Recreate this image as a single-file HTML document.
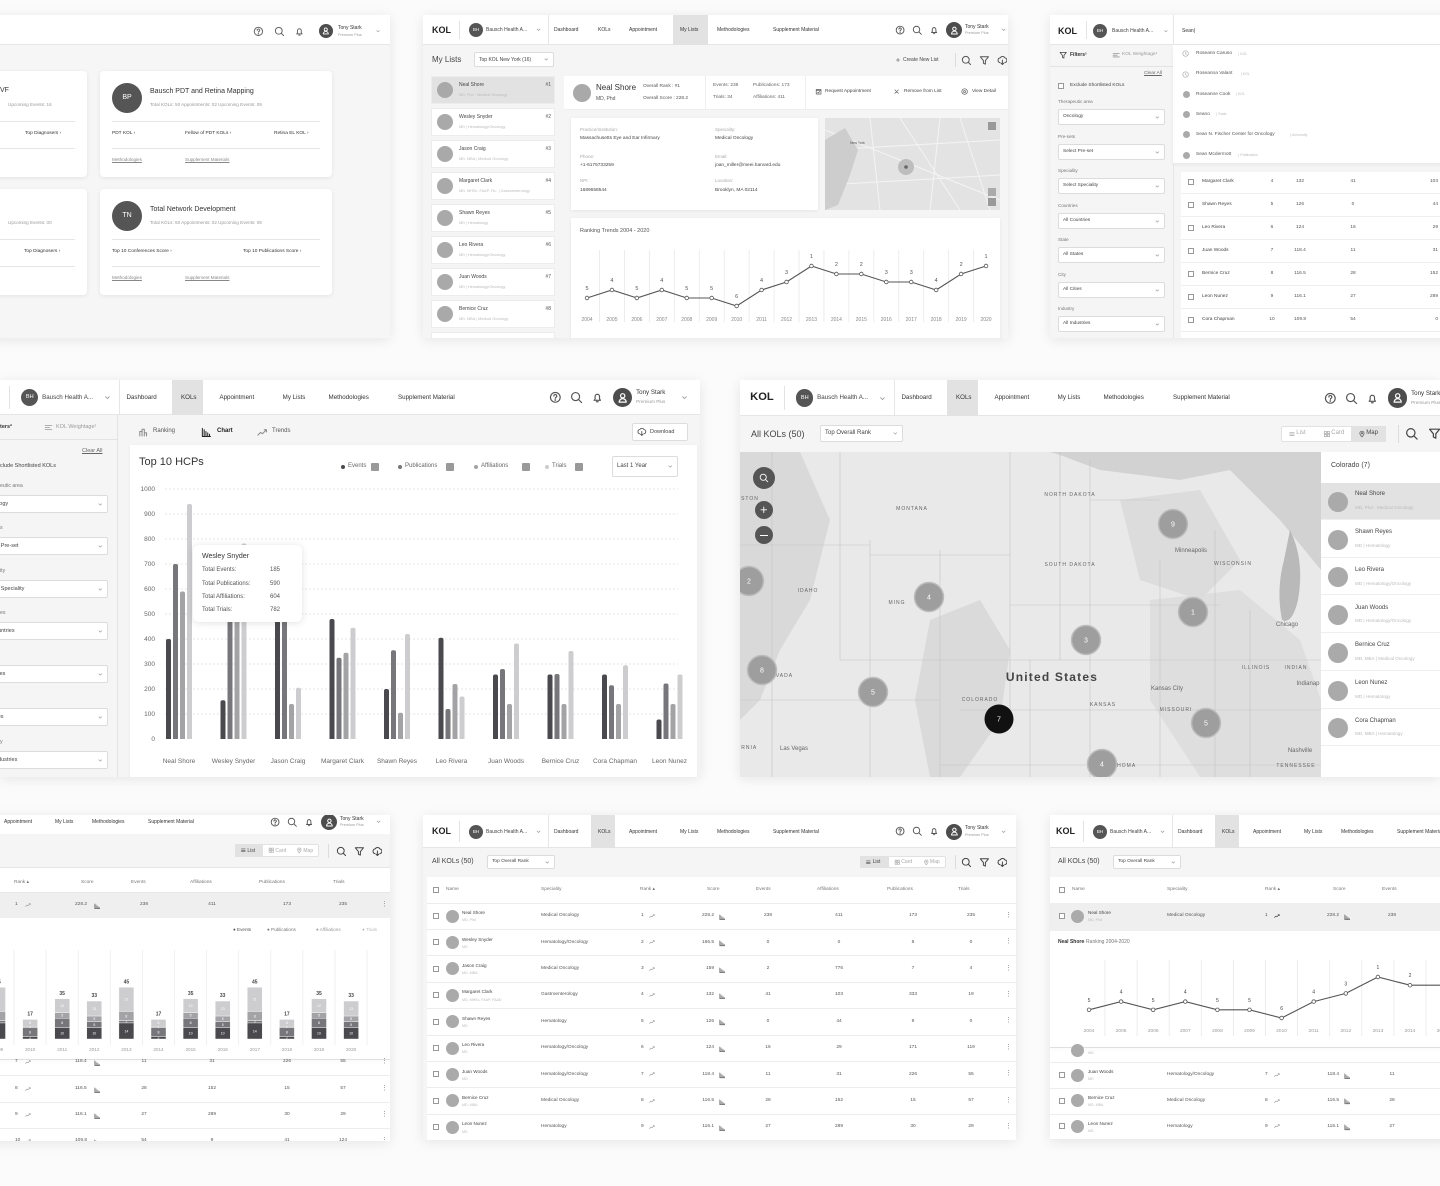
<!DOCTYPE html>
<html><head><meta charset="utf-8">
<style>
body{margin:0;width:1440px;height:1186px;background:#fbfbfb;position:relative;overflow:hidden;font-family:"Liberation Sans",sans-serif;color:#333}
.p{position:absolute;overflow:hidden;background:#f5f5f5;box-shadow:0 2px 12px rgba(0,0,0,.09)}
</style></head>
<body>
<script>
/* ---------- chart data (top-level arrays) ---------- */
const hcpNames=['Neal Shore','Wesley Snyder','Jason Craig','Margaret Clark','Shawn Reyes','Leo Rivera','Juan Woods','Bernice Cruz','Cora Chapman','Leon Nunez'];
const eventsVals=[400,155,620,480,200,405,258,258,258,78];
const publicationsVals=[700,590,580,325,355,120,280,260,215,222];
const affiliationsVals=[590,604,140,345,105,220,140,140,140,140];
const trialsVals=[940,782,205,445,420,170,382,352,295,258];
const yTickVals=[0,100,200,300,400,500,600,700,800,900,1000];
const tooltipLabels=['Total Events:','Total Publications:','Total Affiliations:','Total Trials:'];
const tooltipVals=['185','590','604','782'];

const rankYears=['2004','2005','2006','2007','2008','2009','2010','2011','2012','2013','2014','2015','2016','2017','2018','2019','2020'];
const rankVals=[5,4,5,4,5,5,6,4,3,1,2,2,3,3,4,2,1];

const stackYears=['2009','2010','2011','2012','2013','2014','2015','2016','2017','2018','2019','2020'];
const stackEvents=[14,2,10,10,14,2,10,10,14,2,10,10];
const stackPubs=[2,8,8,5,2,8,8,5,2,8,8,5];
const stackAffil=[8,1,5,5,8,1,5,5,8,1,5,5];
const stackTrials=[21,6,12,13,21,6,12,13,21,6,12,13];

/* ---------- helpers ---------- */
const NS='http://www.w3.org/2000/svg';
function mk(par,tag,name,inter,css,text){
 const e=document.createElement(tag);
 
 
 e.style.cssText=css; if(text!=null)e.textContent=text; par.appendChild(e); return e;}
function panel(name,x,y,w,h,bg){
 const p=mk(document.body,'div',name,false,`left:${x}px;top:${y}px;width:${w}px;height:${h}px;${bg?'background:'+bg:''}`);
 p.className='p';p._x=x;p._y=y;p._w=w;p._h=h;return p;}
function R(p,name,x,y,w,h,css,inter){return mk(p,'div',name,inter,`position:absolute;left:${x-p._x}px;top:${y-p._y}px;width:${w}px;height:${h}px;box-sizing:border-box;${css||''}`);}
function T(p,name,x,y,t,sz,col,css,inter){return mk(p,'div',name,inter,`position:absolute;white-space:nowrap;left:${x-p._x}px;top:${y-p._y-sz*0.6}px;font-size:${sz}px;line-height:${sz*1.2}px;color:${col||'#444'};${css||''}`,t);}
function C(p,name,cx,cy,r,css,inter){return R(p,name,cx-r,cy-r,2*r,2*r,'border-radius:50%;'+(css||''),inter);}
function layer(p,name){
 const s=document.createElementNS(NS,'svg');
 
 
 s.setAttribute('width',p._w);s.setAttribute('height',p._h);
 s.style.cssText='position:absolute;left:0;top:0;overflow:visible';
 p.appendChild(s);
 const g=document.createElementNS(NS,'g');g.setAttribute('transform',`translate(${-p._x},${-p._y})`);s.appendChild(g);return g;}
function S(g,tag,name,attrs,text){
 const e=document.createElementNS(NS,tag);
 
 
 for(const k in attrs)e.setAttribute(k,attrs[k]); if(text!=null)e.textContent=text; g.appendChild(e); return e;}
const ICONS={
 help:'<circle cx="6" cy="6" r="4.6"/><path d="M4.6 4.8a1.4 1.4 0 1 1 1.9 1.3c-.4.2-.5.5-.5.9"/><circle cx="6" cy="8.6" r=".3"/>',
 search:'<circle cx="5.3" cy="5.3" r="3.8"/><path d="M8.2 8.2L11 11"/>',
 bell:'<path d="M3 8.8h6l-.9-1.3V5.2a2.1 2.1 0 0 0-4.2 0v2.3z"/><path d="M5.2 10.2h1.6"/>',
 filter:'<path d="M1.5 2h9l-3.4 4.2v4l-2.2-1.1V6.2z"/>',
 download:'<path d="M3.2 8.5A2.7 2.7 0 0 1 3.6 3.2a3 3 0 0 1 5.2 0 2.7 2.7 0 0 1 0 5.3"/><path d="M6 5.5v5M4.4 9l1.6 1.6L7.6 9"/>',
 chev:'<path d="M3.5 5l2.5 2.5L8.5 5"/>',
 right:'<path d="M5 3.5l2.5 2.5L5 8.5"/>',
 trend:'<path d="M1 9l3-3 2 1.5 4.5-4.5M8 3h2.5v2.5"/>',
 bars:'<path d="M1.5 1.5v9h9M3.5 10V3M5.5 10V5M7.5 10V6.5M9.5 10V8"/>',
 clock:'<circle cx="6" cy="6" r="4.6"/><path d="M6 3.5v2.8l1.7 1"/>',
 plus:'<path d="M6 2.5v7M2.5 6h7"/>',
 x:'<path d="M3 3l6 6M9 3l-6 6"/>',
 eye:'<circle cx="6" cy="6" r="4.6"/><circle cx="6" cy="6" r="1.6"/>',
 cal:'<rect x="2" y="2.5" width="8" height="7.5"/><path d="M2 4.5h8M4.3 7l1.2 1.2L8 5.8"/>',
 list:'<path d="M2.5 3.5h7M2.5 6h7M2.5 8.5h7"/>',
 card:'<rect x="2" y="2" width="3.3" height="3.3"/><rect x="6.7" y="2" width="3.3" height="3.3"/><rect x="2" y="6.7" width="3.3" height="3.3"/><rect x="6.7" y="6.7" width="3.3" height="3.3"/>',
 pin:'<path d="M6 10.5S2.8 7.3 2.8 5a3.2 3.2 0 0 1 6.4 0c0 2.3-3.2 5.5-3.2 5.5z"/><circle cx="6" cy="5" r="1"/>',
 user:'<circle cx="6" cy="4.3" r="1.9"/><path d="M2.8 10a3.2 3.2 0 0 1 6.4 0z"/>',
 rank:'<path d="M2 10V5h2.5v5M4.5 10V2.5H7V10M7 10V6.5h2.5V10"/>',
 weight:'<path d="M1.5 3.5h9M1.5 6h6M1.5 8.5h9"/>'
};
function ic(p,name,type,cx,cy,s,col,inter){
 const sz=12*s;
 const e=document.createElementNS(NS,'svg');
 
 
 e.setAttribute('width',sz);e.setAttribute('height',sz);e.setAttribute('viewBox','0 0 12 12');
 e.style.cssText=`position:absolute;left:${cx-sz/2-p._x}px;top:${cy-sz/2-p._y}px;fill:none;stroke:${col||'#555'};stroke-width:1.1;stroke-linecap:round;stroke-linejoin:round`;
 e.innerHTML=ICONS[type];p.appendChild(e);return e;}
function nav(p,ox,top,s,h,w,active){
 const cy=top+h/2;
 R(p,'top-nav-bar',p._x,top,w,h,'background:#fff;border-bottom:1px solid #e6e6e6');
 T(p,'kol-logo',ox+9*s,cy,'KOL',9*s,'#222','font-weight:bold');
 R(p,'logo-divider',ox+36*s,top+6,1,h-12,'background:#e3e3e3');
 C(p,'org-avatar',ox+53*s,cy,7*s,'background:#555');
 T(p,'org-avatar-initials',ox+53*s,cy,'BH',4.5*s,'#fff','transform:translateX(-50%)');
 T(p,'org-switcher',ox+63*s,cy,'Bausch Health A...',5*s,'#444','',true);
 ic(p,'org-chevron','chev',ox+116*s,cy,0.6*s,'#999');
 R(p,'org-divider',ox+125*s,top,1,h,'background:#e6e6e6');
 const items=[['Dashboard',131],['KOLs',175],['Appointment',206],['My Lists',257],['Methodologies',294],['Supplement Material',350]];
 items.forEach(([lab,rel])=>{
  if(lab===active){const wd=lab.length*2.6;R(p,'active-nav-tab-bg',ox+(rel-7)*s,top,(wd+14)*s,h,'background:#e2e2e2');}
  T(p,'nav-'+lab.toLowerCase().replace(/ /g,'-'),ox+rel*s,cy,lab,5*s,'#333','',true);
 });
 ic(p,'help-icon','help',ox+477*s,cy,0.85*s,'#555',true);
 ic(p,'search-icon','search',ox+494*s,cy,0.85*s,'#555',true);
 ic(p,'notification-icon','bell',ox+511*s,cy,0.85*s,'#555',true);
 C(p,'user-avatar',ox+531*s,cy,8*s,'background:#4d4d4d',true);
 ic(p,'user-avatar-glyph','user',ox+531*s,cy,0.9*s,'#fff');
 T(p,'user-name',ox+542*s,cy-3.5*s,'Tony Stark',5*s,'#333');
 T(p,'user-plan',ox+542*s,cy+3.5*s,'Premium Plus',3.8*s,'#999');
 ic(p,'user-menu-chevron','chev',ox+581*s,cy,0.6*s,'#999',true);
}
function toggle(p,x,y,w,h,s,activeIdx){
 R(p,'view-toggle',x,y,w,h,'background:#fff;border:1px solid #e2e2e2;border-radius:2px');
 const seg=w/3;
 ['List','Card','Map'].forEach((lab,i)=>{
  if(i===activeIdx)R(p,'view-toggle-active',x+i*seg,y,seg,h,'background:#e2e2e2');
  ic(p,'view-'+lab.toLowerCase()+'-icon',['list','card','pin'][i],x+i*seg+seg*0.3,y+h/2,0.55*s,i===activeIdx?'#555':'#aaa');
  T(p,'view-'+lab.toLowerCase()+'-button',x+i*seg+seg*0.3+4*s,y+h/2,lab,5*s,i===activeIdx?'#444':'#aaa','',true);
 });
}
function dropdown(p,name,x,y,w,h,label,sz){
 R(p,name,x,y,w,h,'background:#fff;border:1px solid #dcdcdc;border-radius:2px',true);
 T(p,name+'-label',x+5,y+h/2,label,sz,'#444');
 ic(p,name+'-chevron','chev',x+w-8,y+h/2,0.55,'#999');
}

/* ================= PANEL A : dashboard cards ================= */
(function(){
 const p=panel('dashboard-panel',-10,15,400,323,'#f6f6f6');
 R(p,'dashboard-header',-10,15,400,30,'background:#fff;border-bottom:1px solid #e6e6e6');
 ic(p,'help-icon','help',258,31,0.9,'#666',true);
 ic(p,'search-icon','search',279,31,0.9,'#666',true);
 ic(p,'notification-icon','bell',299,31,0.9,'#666',true);
 C(p,'user-avatar',326,31,7,'background:#4d4d4d',true);
 ic(p,'user-avatar-glyph','user',326,31,0.8,'#fff');
 T(p,'user-name',338,28,'Tony Stark',5,'#333');
 T(p,'user-plan',338,35,'Premium Plus',3.8,'#999');
 ic(p,'user-menu-chevron','chev',378,31,0.5,'#999',true);
 function card(nm,x,y,w,h){return R(p,nm,x,y,w,h,'background:#fff;border-radius:4px;box-shadow:0 1px 5px rgba(0,0,0,.08)');}
 // card 1 & 3 (cut)
 card('program-card-1',-20,71,107,106);
 T(p,'program-card-1-title',0,91,'VF',7,'#333');
 T(p,'program-card-1-stats',8,105,'Upcoming Events:  16',4.6,'#999');
 R(p,'card-1-divider-a',-10,121,85,1,'background:#e6e6e6');
 T(p,'top-diagnosers-link-1',25,134,'Top Diagnosers  ›',4.8,'#333','',true);
 R(p,'card-1-divider-b',-10,148,85,1,'background:#e6e6e6');
 card('program-card-3',-20,189,107,106);
 T(p,'program-card-3-stats',8,223,'Upcoming Events:  00',4.6,'#999');
 R(p,'card-3-divider-a',-10,239,85,1,'background:#e6e6e6');
 T(p,'top-diagnosers-link-3',24,252,'Top Diagnosers  ›',4.8,'#333','',true);
 R(p,'card-3-divider-b',-10,266,85,1,'background:#e6e6e6');
 // card 2
 function bigCard(nm,y,ini,title,links){
  card(nm,100,y,232,106);
  C(p,nm+'-avatar',127,y+27,15,'background:#555');
  T(p,nm+'-avatar-initials',127,y+27,ini,7,'#fff','transform:translateX(-50%)');
  T(p,nm+'-title',150,y+21,title,7,'#333');
  T(p,nm+'-stats',150,y+34,'Total KOLs:  50     Appointments:  02     Upcoming Events:  09',4.6,'#999');
  R(p,nm+'-divider-a',112,y+50,208,1,'background:#e6e6e6');
  links.forEach(([t,x],i)=>T(p,nm+'-link-'+i,x,y+63,t+'  ›',4.8,'#333','',true));
  R(p,nm+'-divider-b',112,y+77,208,1,'background:#e6e6e6');
  T(p,nm+'-methodologies-link',112,y+89,'Methodologies',4.6,'#888','text-decoration:underline',true);
  T(p,nm+'-supplement-link',185,y+89,'Supplement Materials',4.6,'#888','text-decoration:underline',true);
 }
 bigCard('program-card-bp',71,'BP','Bausch PDT and Retina Mapping',[['PDT KOL',112],['Fellow of PDT KOLs',185],['Retina EL KOL',274]]);
 bigCard('program-card-tn',189,'TN','Total Network Development',[['Top 10 Conferences Score',112],['Top 10 Publications Score',243]]);
})();

/* ================= PANEL B : My Lists ================= */
(function(){
 const p=panel('my-lists-panel',423,15,585,323);
 nav(p,423,15,1,30,585,'My Lists');
 T(p,'my-lists-title',432,60,'My Lists',8,'#444');
 dropdown(p,'list-selector',474,52,80,15,'Top KOL New York (16)',5);
 ic(p,'create-list-icon','plus',898,60,0.5,'#555');
 T(p,'create-new-list-button',903,60,'Create New List',5,'#444','',true);
 R(p,'toolbar-divider',955,53,1,14,'background:#ddd');
 ic(p,'search-icon-2','search',966,60,0.9,'#555',true);
 ic(p,'filter-icon','filter',984,60,0.9,'#555',true);
 ic(p,'download-icon','download',1002,60,0.9,'#555',true);
 const people=[['Neal Shore','MD, Phd · Medical Oncology'],['Wesley Snyder','MD | Hematology/Oncology'],['Jason Craig','MD, MBA | Medical Oncology'],['Margaret Clark','MD, MHSc, FAAP, FA.. | Gastroenterology'],['Shawn Reyes','MD | Hematology'],['Leo Rivera','MD | Hematology/Oncology'],['Juan Woods','MD | Hematology/Oncology'],['Bernice Cruz','MD, MBA | Medical Oncology'],['','']];
 people.forEach(([n,sub],i)=>{
  const top=76+i*32;
  R(p,'list-item-'+(i+1),431,top,124,28,'background:'+(i===0?'#e2e2e2':'#fff')+';border:1px solid #ececec',true);
  if(!n)return;
  C(p,'list-item-avatar-'+(i+1),445,top+14,8,'background:#a9a9a9');
  T(p,'list-item-name-'+(i+1),459,top+9,n,5,'#444');
  T(p,'list-item-sub-'+(i+1),459,top+19,sub,3.8,'#bbb');
  T(p,'list-item-rank-'+(i+1),551,top+9,'#'+(i+1),5,'#555','transform:translateX(-100%)');
 });
 R(p,'profile-summary',564,76,444,34,'background:#fff;border-bottom:1px solid #eee');
 R(p,'summary-divider-1',705,76,1,34,'background:#eee');
 R(p,'summary-divider-2',805,76,1,34,'background:#eee');
 C(p,'profile-avatar',582,93,9,'background:#a9a9a9');
 T(p,'profile-name',596,88,'Neal Shore',8,'#333');
 T(p,'profile-degree',596,99,'MD, Phd',5,'#555');
 T(p,'overall-rank',643,87,'Overall Rank :  #1',4.8,'#555');
 T(p,'overall-score',643,99,'Overall Score : 228.2',4.8,'#555');
 T(p,'events-count',713,86,'Events:  238',4.8,'#666');
 T(p,'publications-count',753,86,'Publications:  173',4.8,'#666');
 T(p,'trials-count',713,98,'Trials:   34',4.8,'#666');
 T(p,'affiliations-count',753,98,'Affiliations:   411',4.8,'#666');
 ic(p,'request-icon','cal',819,92,0.6,'#555');
 T(p,'request-appointment-button',825,92,'Request Appointment',4.8,'#444','',true);
 ic(p,'remove-icon','x',897,92,0.6,'#555');
 T(p,'remove-from-list-button',904,92,'Remove from List',4.8,'#444','',true);
 ic(p,'view-icon','eye',965,92,0.6,'#555');
 T(p,'view-detail-button',972,92,'View Detail',4.8,'#444','',true);
 R(p,'detail-card',571,118,247,92,'background:#fff;box-shadow:0 1px 4px rgba(0,0,0,.07)');
 [['Practice/Institution:','Massachusetts Eye and Ear Infirmary',580,130],['Phone:','+1-6175733259',580,157],['NPI:','1689658544',580,181],['Speciality:','Medical Oncology',715,130],['Email:','joan_miller@meei.harvard.edu',715,157],['Location:','Brooklyn, MA 02114',715,181]].forEach(([l,v,x,y],i)=>{
  T(p,'detail-label-'+i,x,y,l,4.5,'#aaa');T(p,'detail-value-'+i,x,y+(i%3===2?10:9),v,4.8,'#444');});
 R(p,'location-map',825,118,175,92,'background:#e3e3e3');
 const mg=layer(p,'location-map-lines');
 [[825,150,1000,140],[870,118,880,210],[900,118,960,210],[825,185,1000,175],[940,118,930,210],[825,130,1000,200],[960,118,990,210]].forEach((l,i)=>S(mg,'line','map-road-'+i,{x1:l[0],y1:l[1],x2:l[2],y2:l[3],stroke:'#f4f4f4','stroke-width':1}));
 S(mg,'path','water',{d:'M825 140 L845 128 L858 150 L850 175 L838 205 L825 210Z',fill:'#cdcdcd'});
 S(mg,'circle','location-halo',{cx:906,cy:167,r:8,fill:'#bdbdbd'});
 S(mg,'circle','location-dot',{cx:906,cy:167,r:1.8,fill:'#666'});
 T(p,'map-label-newyork',850,143,'New York',3.5,'#555');
 R(p,'map-zoom-in',988,188,8,8,'background:#aaa',true);R(p,'map-zoom-out',988,198,8,8,'background:#999',true);
 R(p,'map-fullscreen',988,122,8,8,'background:#999',true);
 // trend card
 R(p,'ranking-trend-card',571,218,429,120,'background:#fff;box-shadow:0 1px 4px rgba(0,0,0,.07)');
 T(p,'ranking-trend-title',580,231,'Ranking Trends 2004 - 2020',5.5,'#555');
 const g=layer(p,'ranking-trend-chart');
 const xS=i=>587+i*24.94, yS=r=>266+(r-1)*8;
 rankYears.forEach((yr,i)=>{if(i<16)S(g,'line','trend-gridline-'+i,{x1:xS(i)+12.5,x2:xS(i)+12.5,y1:250,y2:322,stroke:'#e8e8e8','stroke-width':0.8});
  S(g,'text','trend-year-'+yr,{x:xS(i),y:321,'font-size':5,'text-anchor':'middle',fill:'#888','font-family':'Liberation Sans'},yr);});
 S(g,'polyline','ranking-line',{points:rankVals.map((r,i)=>xS(i)+','+yS(r)).join(' '),fill:'none',stroke:'#555','stroke-width':1.1});
 rankVals.forEach((r,i)=>{S(g,'circle','ranking-point-'+rankYears[i],{cx:xS(i),cy:yS(r),r:1.8,fill:'#fff',stroke:'#555','stroke-width':0.8});
  S(g,'text','ranking-label-'+rankYears[i],{x:xS(i),y:yS(r)-8,'font-size':5.5,'text-anchor':'middle',fill:'#555','font-family':'Liberation Sans'},r);});
})();

/* ================= PANEL C : search + filters ================= */
(function(){
 const p=panel('search-panel',1050,15,400,323,'#f5f5f5');
 R(p,'search-header',1050,15,400,30,'background:#fff;border-bottom:1px solid #e6e6e6');
 T(p,'kol-logo',1058,31,'KOL',9,'#222','font-weight:bold');
 R(p,'logo-divider',1086,21,1,18,'background:#e3e3e3');
 C(p,'org-avatar',1100,31,7,'background:#555');
 T(p,'org-avatar-initials',1100,31,'BH',4.5,'#fff','transform:translateX(-50%)');
 T(p,'org-switcher',1112,31,'Bausch Health A...',5,'#444','',true);
 ic(p,'org-chevron','chev',1166,31,0.5,'#999');
 R(p,'search-divider',1173,15,1,323,'background:#e6e6e6');
 T(p,'search-input',1182,31,'Sean|',5,'#333','',true);
 ic(p,'filters-icon','filter',1063,55,0.7,'#444');
 T(p,'filters-tab',1070,55,'Filters²',5,'#333','font-weight:bold',true);
 ic(p,'weightage-icon','weight',1116,55,0.7,'#999');
 T(p,'kol-weightage-tab',1122,55,'KOL Weightage¹',4.8,'#999','',true);
 R(p,'filters-divider',1050,66,123,1,'background:#e3e3e3');
 T(p,'clear-all-link',1144,74,'Clear All',4.8,'#666','text-decoration:underline',true);
 R(p,'exclude-checkbox',1058,83,6,6,'border:1px solid #999;background:#fff',true);
 T(p,'exclude-shortlisted-label',1070,86,'Exclude Shortlisted KOLs',4.8,'#444');
 [['Therapeutic area','Oncology',109],['Pre-sets','Select Pre-set',144],['Speciality','Select Speciality',178],['Countries','All Countries',213],['State','All States',247],['City','All Cities',282],['Industry','All Industries',316]].forEach(([l,v,y],i)=>{
  T(p,'filter-label-'+i,1058,y-7,l,4.6,'#777');
  dropdown(p,'filter-select-'+i,1058,y,107,16,v,4.8);
 });
 R(p,'search-suggestions',1173,45,270,118,'background:#fff;box-shadow:0 2px 4px rgba(0,0,0,.05)');
 [['clock','Roseann Caruso','KOL'],['clock','Roseanna Valant','KOL'],['dot','Roseanne Cook','KOL'],['dot','Seano','State'],['dot','Sean N. Fischer Center for Oncology','University'],['dot','Sean Mcdermott','Publication']].forEach(([t,n,k],i)=>{
  const y=54+i*20.2;
  if(t==='clock')ic(p,'suggestion-clock-'+i,'clock',1186,y,0.6,'#aaa');else C(p,'suggestion-dot-'+i,1186,y,3.5,'background:#aaa');
  const e=T(p,'suggestion-'+i,1196,y,n,4.8,'#555','',true);
  T(p,'suggestion-type-'+i,1196+n.length*2.45+8,y,'|   '+k,3.6,'#bbb');
 });
 R(p,'results-table',1181,172,270,166,'background:#fff');
 [['Margaret Clark',4,132,41,103],['Shawn Reyes',5,126,0,44],['Leo Rivera',6,124,16,29],['Juan Woods',7,118.4,11,31],['Bernice Cruz',8,116.5,28,152],['Leon Nunez',9,116.1,27,289],['Cora Chapman',10,109.8,54,0]].forEach((r,i)=>{
  const y=182+i*23;
  R(p,'result-row-sep-'+i,1181,y+11,270,1,'background:#eee');
  R(p,'result-checkbox-'+i,1188,y-3,6,6,'border:1px solid #999',true);
  T(p,'result-name-'+i,1202,y,r[0],4.8,'#444');
  T(p,'result-rank-'+i,1272,y,String(r[1]),4.8,'#555','transform:translateX(-50%)');
  T(p,'result-score-'+i,1300,y,String(r[2]),4.8,'#555','transform:translateX(-50%)');
  T(p,'result-events-'+i,1353,y,String(r[3]),4.8,'#555','transform:translateX(-50%)');
  T(p,'result-affil-'+i,1438,y,String(r[4]),4.8,'#555','transform:translateX(-100%)');
 });
})();

/* ================= PANEL D : Top 10 HCPs bar chart ================= */
(function(){
 const p=panel('chart-panel',0,380,700,397,'#f5f5f5');
 nav(p,-36,380,1.24,35,700,'KOLs');
 R(p,'filter-sidebar',0,415,118,362,'background:#f5f5f5;border-right:1px solid #e3e3e3');
 T(p,'filters-tab',0,427,'ters²',5.5,'#333','font-weight:bold',true);
 ic(p,'weightage-icon','weight',48,427,0.75,'#999');
 T(p,'kol-weightage-tab',56,427,'KOL Weightage¹',5.5,'#999','',true);
 R(p,'filters-divider',0,439,118,1,'background:#e3e3e3');
 T(p,'clear-all-link',82,451,'Clear All',5.5,'#666','text-decoration:underline',true);
 T(p,'exclude-shortlisted-label',0,466,'clude Shortlisted KOLs',5.5,'#444');
 [['eutic area','ology',495],['s','ct Pre-set',537],['ity','ct Speciality',580],['es','ountries',622],['','ates',665],['','ties',708],['y','ndustries',751]].forEach(([l,v,y],i)=>{
  T(p,'filter-label-'+i,0,y-9,l,5.2,'#777');
  dropdown(p,'filter-select-'+i,-10,y,118,18,v,5.5);
 });
 ic(p,'ranking-tab-icon','rank',143,432,0.9,'#888');
 T(p,'ranking-tab',153,432,'Ranking',6,'#555','',true);
 ic(p,'chart-tab-icon','bars',206,432,0.9,'#222');
 T(p,'chart-tab',217,432,'Chart',6,'#222','font-weight:bold',true);
 ic(p,'trends-tab-icon','trend',262,432,0.9,'#888');
 T(p,'trends-tab',272,432,'Trends',6,'#555','',true);
 R(p,'download-button',632,423,56,18,'background:#fff;border:1px solid #ddd;border-radius:2px',true);
 ic(p,'download-button-icon','download',642,432,0.8,'#555');
 T(p,'download-button-label',650,432,'Download',5.5,'#444');
 R(p,'chart-card',130,445,567,332,'background:#fff;box-shadow:0 1px 4px rgba(0,0,0,.06)');
 T(p,'chart-title',139,463,'Top 10 HCPs',11,'#333');
 const legend=[['Events','#4a4a4e',343],['Publications','#77777b',400],['Affiliations','#a3a3a6',476],['Trials','#cdcdcf',547]];
 legend.forEach(([n,c,x])=>{
  C(p,'legend-dot-'+n.toLowerCase(),x,467,2,'background:'+c);
  T(p,'legend-entry-'+n.toLowerCase(),x+5,467,n,6,'#666','',true);
  R(p,'legend-checkbox-'+n.toLowerCase(),x+9+n.length*3.1,463,8,8,'background:#999;border-radius:1px',true);
 });
 dropdown(p,'period-selector',612,456,66,21,'Last 1 Year',6);
 const g=layer(p,'hcp-bar-chart');
 const yS=v=>739-v*0.25, xS=i=>179+i*54.5;
 yTickVals.forEach(v=>{
  if(v>0)S(g,'line','gridline-'+v,{x1:165,x2:678,y1:yS(v),y2:yS(v),stroke:'#dedede','stroke-dasharray':'2 2','stroke-width':0.7});
  S(g,'text','y-tick-'+v,{x:155,y:yS(v)+2,'font-size':6.5,'text-anchor':'end',fill:'#666','font-family':'Liberation Sans'},v);
 });
 const series=[['events',eventsVals,'#4a4a4e',-10.5],['publications',publicationsVals,'#77777b',-3.5],['affiliations',affiliationsVals,'#a3a3a6',3.5],['trials',trialsVals,'#cdcdcf',10.5]];
 hcpNames.forEach((n,i)=>{
  series.forEach(([sn,vals,col,off])=>{
   const x=xS(i)+off-2.5, y=yS(vals[i]);
   S(g,'rect','bar-'+sn+'-'+i,{x:x,y:y,width:5,height:739-y,rx:2,fill:col});
   S(g,'rect','bar-base-'+sn+'-'+i,{x:x,y:Math.max(y+3,736),width:5,height:3,fill:col});
  });
  S(g,'text','x-label-'+i,{x:xS(i),y:763,'font-size':6.5,'text-anchor':'middle',fill:'#666','font-family':'Liberation Sans'},n);
 });
 const tt=R(p,'chart-tooltip',193,545,109,77,'background:#fff;border-radius:6px;box-shadow:0 1px 8px rgba(0,0,0,.12)');
 T(p,'tooltip-title',202,557,'Wesley Snyder',7,'#333');
 tooltipLabels.forEach((l,i)=>{T(p,'tooltip-label-'+i,202,571+i*13.3,l,6,'#555');T(p,'tooltip-value-'+i,270,571+i*13.3,tooltipVals[i],6,'#555');});
})();

/* ================= PANEL E : Map view ================= */
(function(){
 const p=panel('map-panel',740,380,700,397,'#f5f5f5');
 nav(p,739,380,1.24,36,700,'KOLs');
 T(p,'all-kols-title',751,434,'All KOLs (50)',9,'#444');
 dropdown(p,'sort-selector',820,425,83,17,'Top Overall Rank',6);
 toggle(p,1281,426,105,16,1.2,2);
 R(p,'toolbar-divider',1398,425,1,18,'background:#ddd');
 ic(p,'search-icon-2','search',1412,434,1.1,'#444',true);
 ic(p,'filter-icon','filter',1435,434,1.1,'#444',true);
 const g=layer(p,'kol-map');
 S(g,'rect','map-base',{x:740,y:452,width:581,height:325,fill:'#e9e9e9'});
 S(g,'path','canada-region',{d:'M1050 452 L1321 452 L1321 570 L1280 520 L1230 470 L1180 480 L1100 470 L1060 455Z',fill:'#d2d2d2'});
 S(g,'path','lake-michigan',{d:'M1290 530 Q1305 560 1298 600 Q1292 625 1282 620 Q1276 590 1284 560Z',fill:'#b9b9b9'});
 S(g,'path','terrain-mountains',{d:'M740 452 L800 452 L830 520 L810 600 L780 650 L760 700 L740 720Z',fill:'#d9d9d9'});
 S(g,'path','terrain-rockies',{d:'M930 620 L980 600 L1010 650 L1000 720 L960 777 L930 777 L915 700Z',fill:'#dadada'});
 S(g,'path','terrain-east',{d:'M1150 600 L1240 590 L1300 640 L1321 700 L1321 777 L1200 777 L1150 700Z',fill:'#dedede'});
 S(g,'path','terrain-north',{d:'M1120 500 L1200 490 L1240 560 L1200 600 L1140 580Z',fill:'#dcdcdc'});
 [[772,452,772,777],[840,452,840,660],[870,540,870,777],[940,550,940,777],[1010,452,1010,710],[1060,452,1060,660],[1030,660,1030,777],[1090,460,1090,777],[1160,560,1160,777],[1215,530,1215,777],[1250,610,1250,777],[740,545,870,545],[870,555,1010,555],[840,660,1321,660],[740,700,940,700],[960,710,1321,710],[1010,605,1220,605],[940,765,1321,765],[1090,500,1160,500]].forEach((l,i)=>S(g,'line','state-border-'+i,{x1:l[0],y1:l[1],x2:l[2],y2:l[3],stroke:'#c4c4c4','stroke-width':0.6}));
 const labels=[['NORTH DAKOTA',1070,496,5],['MONTANA',912,510,5],['SOUTH DAKOTA',1070,566,5],['IDAHO',808,592,5],['MING',897,604,5],['Minneapolis',1191,552,6],['WISCONSIN',1233,565,5],['Chicago',1287,626,6],['NEVADA',780,677,5],['COLORADO',980,701,5],['KANSAS',1103,706,5],['Kansas City',1167,690,6],['ILLINOIS',1256,669,5],['INDIAN',1296,669,5],['Indianap',1308,685,6],['MISSOURI',1176,711,5],['Las Vegas',794,750,6],['Nashville',1300,752,6],['OKLAHOMA',1118,767,5],['TENNESSEE',1296,767,5],['STON',750,500,5],['IRNIA',748,749,5]];
 labels.forEach(([t,x,y,sz],i)=>S(g,'text','map-label-'+i,{x:x,y:y,'font-size':sz,'text-anchor':'middle',fill:'#666','font-family':'Liberation Sans','letter-spacing':sz===5?1:0},t));
 S(g,'text','map-label-united-states',{x:1052,y:681,'font-size':12,'text-anchor':'middle',fill:'#444','font-weight':'bold','letter-spacing':1.2,'font-family':'Liberation Sans'},'United States');
 const clusters=[['9',1173,524],['2',749,581],['4',929,597],['1',1193,612],['3',1086,640],['8',762,670],['5',873,692],['5',1206,723],['4',1102,764]];
 clusters.forEach(([n,x,y],i)=>{S(g,'circle','kol-cluster-'+i,{cx:x,cy:y,r:14.5,fill:'#9e9e9e',stroke:'#bcbcbc','stroke-width':1.5});
  S(g,'text','kol-cluster-count-'+i,{x:x,y:y+2.5,'font-size':7,'text-anchor':'middle',fill:'#fff','font-family':'Liberation Sans'},n);});
 S(g,'circle','kol-cluster-selected',{cx:999,cy:719,r:14.5,fill:'#111'});
 S(g,'text','kol-cluster-selected-count',{x:999,y:721.5,'font-size':7,'text-anchor':'middle',fill:'#fff','font-family':'Liberation Sans'},'7');
 C(p,'map-search-button',764,478,11,'background:#555',true);ic(p,'map-search-glyph','search',764,478,0.8,'#fff');
 C(p,'map-zoom-in',764,510,9,'background:#555',true);ic(p,'map-zoom-in-glyph','plus',764,510,0.8,'#fff');
 C(p,'map-zoom-out',764,535,9,'background:#555',true);R(p,'map-zoom-out-glyph',760,534.5,8,1.2,'background:#fff');
 R(p,'state-kol-list',1321,452,119,325,'background:#fff');
 T(p,'state-list-title',1331,466,'Colorado (7)',7,'#444');
 [['Neal Shore','MD, Phd · Medical Oncology'],['Shawn Reyes','MD | Hematology'],['Leo Rivera','MD | Hematology/Oncology'],['Juan Woods','MD | Hematology/Oncology'],['Bernice Cruz','MD, MBA | Medical Oncology'],['Leon Nunez','MD | Hematology'],['Cora Chapman','MD, MBA | Hematology']].forEach(([n,s],i)=>{
  const top=483+i*37.7;
  R(p,'state-kol-item-'+i,1321,top,119,37,'background:'+(i===0?'#e2e2e2':'#fff')+';border-bottom:1px solid #eee',true);
  C(p,'state-kol-avatar-'+i,1338,top+19,10,'background:#aaa');
  T(p,'state-kol-name-'+i,1355,top+12,n,6,'#444');
  T(p,'state-kol-sub-'+i,1355,top+25,s,4.6,'#bbb');
 });
})();

/* ================= PANEL F : table with stacked chart ================= */
(function(){
 const p=panel('stacked-panel',-10,815,400,326,'#fff');
 nav(p,-202,808,1,28,400,'');
 R(p,'toolbar',-10,834,400,34,'background:#f5f5f5;border-bottom:1px solid #e6e6e6');
 toggle(p,235,844,84,13,1,0);
 R(p,'toolbar-divider',328,844,1,14,'background:#ddd');
 ic(p,'search-icon-2','search',341,851,0.9,'#444',true);
 ic(p,'filter-icon','filter',359,851,0.9,'#444',true);
 ic(p,'download-icon','download',377,851,0.9,'#444',true);
 const hx=[['Rank ▴',14],['Score',81],['Events',131],['Affiliations',190],['Publications',259],['Trials',333]];
 hx.forEach(([t,x])=>T(p,'column-header-'+t.split(' ')[0].toLowerCase(),x,883,t,4.8,'#777','',true));
 R(p,'header-border',-10,892,400,1,'background:#e6e6e6');
 R(p,'selected-row',-10,893,400,25,'background:#efefef',true);
 function row(y,vals,i){
  T(p,'row-rank-'+i,15,y,vals[0],4.8,'#555');ic(p,'row-trend-icon-'+i,'trend',28,y,0.5,'#999',true);
  T(p,'row-score-'+i,75,y,vals[1],4.8,'#555');ic(p,'row-bars-icon-'+i,'bars',97,y+1,0.55,'#555',true);
  T(p,'row-events-'+i,144,y,vals[2],4.8,'#555','transform:translateX(-50%)');
  T(p,'row-affil-'+i,212,y,vals[3],4.8,'#555','transform:translateX(-50%)');
  T(p,'row-pubs-'+i,287,y,vals[4],4.8,'#555','transform:translateX(-50%)');
  T(p,'row-trials-'+i,343,y,vals[5],4.8,'#555','transform:translateX(-50%)');
  T(p,'row-menu-'+i,381,y,'⋮',7,'#888','',true);
 }
 row(905,['1','228.2','238','411','173','235'],0);
 [['● Events',233],['● Publications',267],['● Affiliations',316],['● Trials',362]].forEach(([t,x],i)=>T(p,'stack-legend-'+i,x,930,t,4.6,['#555','#777','#999','#bbb'][i]));
 const g=layer(p,'yearly-stacked-chart');
 const xS=i=>-2+i*32.1, base=1039, k=1.15;
 stackYears.forEach((yr,i)=>{
  const cx=xS(i);
  S(g,'line','year-separator-'+yr,{x1:cx+16,x2:cx+16,y1:950,y2:1045,stroke:'#ececec','stroke-width':0.8});
  let y=base;
  [[stackEvents,'#4a4a4e','events'],[stackPubs,'#77777b','publications'],[stackAffil,'#a3a3a6','affiliations'],[stackTrials,'#cdcdcf','trials']].forEach(([arr,col,nm])=>{
   const h=arr[i]*k; y-=h;
   S(g,'rect','stack-'+nm+'-'+yr,{x:cx-7.5,y:y,width:15,height:h,fill:col,stroke:'#fff','stroke-width':0.4});
   S(g,'text','stack-value-'+nm+'-'+yr,{x:cx,y:y+h/2+1.3,'font-size':3.5,'text-anchor':'middle',fill:'#fff','font-family':'Liberation Sans'},arr[i]);
  });
  const tot=stackEvents[i]+stackPubs[i]+stackAffil[i]+stackTrials[i];
  S(g,'text','stack-total-'+yr,{x:cx,y:y-4,'font-size':5,'text-anchor':'middle',fill:'#444','font-weight':'bold','font-family':'Liberation Sans'},tot);
  S(g,'text','stack-year-'+yr,{x:cx,y:1051,'font-size':4.6,'text-anchor':'middle',fill:'#999','font-family':'Liberation Sans'},yr);
 });
 R(p,'chart-bottom-border',-10,1059,400,1,'background:#e0e0e0;box-shadow:0 1px 3px rgba(0,0,0,.08)');
 [['7','118.4','11','31','226','55',1062],['8','116.5','28','152','15','57',1089],['9','116.1','27','289','30','29',1115],['10','109.8','54','9','41','124',1141]].forEach((r,i)=>{
  row(r[6],r,i+1);R(p,'row-sep-'+i,-10,r[6]+13,400,1,'background:#ececec');
 });
})();

/* ================= PANEL G : KOL list table ================= */
const tableRows=[
 ['Neal Shore','MD, Phd','Medical Oncology','1','228.2','238','411','173','235'],
 ['Wesley Snyder','MD','Hematology/Oncology','2','166.5','0','0','8','0'],
 ['Jason Craig','MD, MBA','Medical Oncology','3','159','2','776','7','4'],
 ['Margaret Clark','MD, MHSc, FAAP, FAAD','Gastroenterology','4','132','41','103','333','19'],
 ['Shawn Reyes','MD','Hematology','5','126','0','44','9','0'],
 ['Leo Rivera','MD','Hematology/Oncology','6','124','16','29','171','119'],
 ['Juan Woods','MD','Hematology/Oncology','7','118.4','11','31','226','55'],
 ['Bernice Cruz','MD, MBA','Medical Oncology','8','116.5','28','152','15','57'],
 ['Leon Nunez','MD','Hematology','9','116.1','27','289','30','29']];
(function(){
 const p=panel('kol-table-panel',423,815,593,325,'#f5f5f5');
 nav(p,423,815,1,33,593,'KOLs');
 T(p,'all-kols-title',432,862,'All KOLs (50)',7,'#444');
 dropdown(p,'sort-selector',487,855,68,14,'Top Overall Rank',4.8);
 toggle(p,860,856,86,12,1,0);
 R(p,'toolbar-divider',955,855,1,14,'background:#ddd');
 ic(p,'search-icon-2','search',966,862,0.9,'#444',true);
 ic(p,'filter-icon','filter',984,862,0.9,'#444',true);
 ic(p,'download-icon','download',1002,862,0.9,'#444',true);
 R(p,'table-body',427,877,589,263,'background:#fff');
 R(p,'select-all-checkbox',433,887,6,6,'border:1px solid #999',true);
 [['Name',446],['Speciality',541],['Rank ▴',640],['Score',707],['Events',756],['Affiliations',817],['Publications',887],['Trials',958]].forEach(([t,x])=>T(p,'column-header-'+t.split(' ')[0].toLowerCase(),x,890,t,4.8,'#777','',true));
 R(p,'header-border',427,903,589,1,'background:#ececec');
 tableRows.forEach((r,i)=>{
  const y=916+i*26.4;
  R(p,'table-row-sep-'+i,427,y+13,589,1,'background:#ececec');
  R(p,'row-checkbox-'+i,433,y-3,6,6,'border:1px solid #999',true);
  C(p,'row-avatar-'+i,452,y,6.5,'background:#aaa');
  T(p,'row-name-'+i,462,y-3,r[0],4.6,'#444');
  T(p,'row-degree-'+i,462,y+4.5,r[1],3.6,'#bbb');
  T(p,'row-speciality-'+i,541,y,r[2],4.8,'#555');
  T(p,'row-rank-'+i,641,y,r[3],4.8,'#555');ic(p,'row-trend-icon-'+i,'trend',652,y,0.5,'#999',true);
  T(p,'row-score-'+i,714,y,r[4],4.8,'#555','transform:translateX(-100%)');ic(p,'row-bars-icon-'+i,'bars',722,y+1,0.55,'#555',true);
  T(p,'row-events-'+i,768,y,r[5],4.8,'#555','transform:translateX(-50%)');
  T(p,'row-affil-'+i,839,y,r[6],4.8,'#555','transform:translateX(-50%)');
  T(p,'row-pubs-'+i,913,y,r[7],4.8,'#555','transform:translateX(-50%)');
  T(p,'row-trials-'+i,971,y,r[8],4.8,'#555','transform:translateX(-50%)');
  T(p,'row-menu-'+i,1005,y,'⋮',7,'#888','',true);
 });
})();

/* ================= PANEL H : row expanded ranking ================= */
(function(){
 const p=panel('expanded-row-panel',1050,815,400,325,'#f5f5f5');
 nav(p,1047,815,1,33,400,'KOLs');
 T(p,'all-kols-title',1058,862,'All KOLs (50)',7,'#444');
 dropdown(p,'sort-selector',1113,855,68,14,'Top Overall Rank',4.8);
 R(p,'table-body',1050,877,400,263,'background:#fff');
 R(p,'select-all-checkbox',1059,887,6,6,'border:1px solid #999',true);
 [['Name',1072],['Speciality',1167],['Rank ▴',1265],['Score',1333],['Events',1382]].forEach(([t,x])=>T(p,'column-header-'+t.split(' ')[0].toLowerCase(),x,890,t,4.8,'#777','',true));
 R(p,'header-border',1050,903,400,1,'background:#ececec');
 R(p,'selected-row',1050,903,400,28,'background:#efefef',true);
 function row(y,r,i){
  R(p,'row-checkbox-'+i,1059,y-3,6,6,'border:1px solid #999;background:#fff',true);
  C(p,'row-avatar-'+i,1077,y,6.5,'background:#aaa');
  T(p,'row-name-'+i,1088,y-3,r[0],4.6,'#444');
  T(p,'row-degree-'+i,1088,y+4.5,r[1],3.6,'#bbb');
  T(p,'row-speciality-'+i,1167,y,r[2],4.8,'#555');
  T(p,'row-rank-'+i,1265,y,r[3],4.8,'#555');ic(p,'row-trend-icon-'+i,'trend',1277,y,0.5,i===0?'#333':'#999',true);
  T(p,'row-score-'+i,1339,y,r[4],4.8,'#555','transform:translateX(-100%)');ic(p,'row-bars-icon-'+i,'bars',1347,y+1,0.55,'#555',true);
  T(p,'row-events-'+i,1392,y,r[5],4.8,'#555','transform:translateX(-50%)');
 }
 row(916,tableRows[0],0);
 T(p,'ranking-chart-title',1058,942,'Neal Shore',5,'#333','font-weight:bold');
 T(p,'ranking-chart-subtitle',1083,942,'- Ranking 2004-2020',5,'#777');
 const g=layer(p,'expanded-ranking-chart');
 const xS=i=>1089+i*32.1, yS=r=>977+(r-1)*8.2;
 rankYears.forEach((yr,i)=>{
  S(g,'line','expanded-gridline-'+yr,{x1:xS(i)+16,x2:xS(i)+16,y1:960,y2:1036,stroke:'#e8e8e8','stroke-width':0.8});
  S(g,'text','expanded-year-'+yr,{x:xS(i),y:1032,'font-size':4.8,'text-anchor':'middle',fill:'#999','font-family':'Liberation Sans'},yr);
 });
 S(g,'polyline','expanded-ranking-line',{points:rankVals.map((r,i)=>xS(i)+','+yS(r)).join(' '),fill:'none',stroke:'#555','stroke-width':1.1});
 rankVals.forEach((r,i)=>{S(g,'circle','expanded-point-'+rankYears[i],{cx:xS(i),cy:yS(r),r:1.8,fill:'#fff',stroke:'#555','stroke-width':0.8});
  S(g,'text','expanded-label-'+rankYears[i],{x:xS(i),y:yS(r)-8,'font-size':5,'text-anchor':'middle',fill:'#444','font-family':'Liberation Sans'},r);});
 R(p,'chart-bottom-border',1050,1047,400,1,'background:#e0e0e0;box-shadow:0 1px 3px rgba(0,0,0,.08)');
 [tableRows[6],tableRows[7],tableRows[8]].forEach((r,i)=>{const y=1075+i*25.7;row(y,r,i+1);R(p,'row-sep-'+i,1050,y+13,400,1,'background:#ececec');});
 R(p,'row-sep-partial',1050,1062,400,1,'background:#ececec');
 C(p,'row-avatar-partial',1077,1050,6.5,'background:#aaa');
 T(p,'row-degree-partial',1088,1053,'MD',3.6,'#bbb');
})();
</script>
</body></html>
